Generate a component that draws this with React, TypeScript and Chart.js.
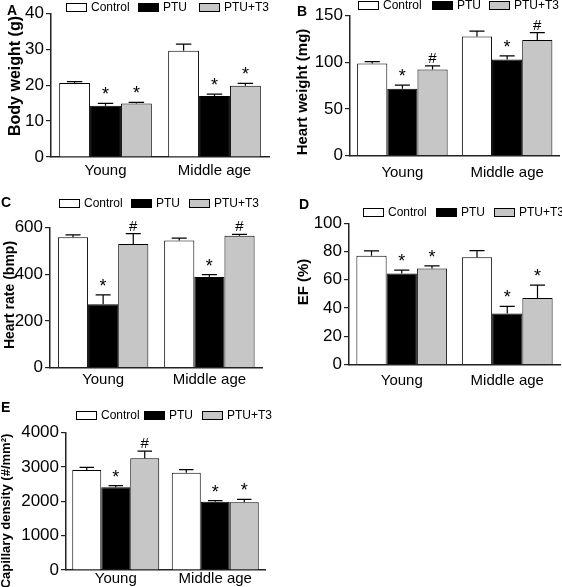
import React, { useEffect, useRef } from "react";
import { Chart, registerables } from "chart.js";

Chart.register(...registerables);

// ---------- data ----------
const groups = ["Young", "Middle age"];
const seriesNames = ["Control", "PTU", "PTU+T3"];

// A: body weight (g)
const bwControl = [20.6, 29.6];
const bwControlErr = [0.4, 1.8];
const bwPTU = [14.3, 17.0];
const bwPTUErr = [0.6, 0.5];
const bwPTUT3 = [14.9, 19.8];
const bwPTUT3Err = [0.3, 0.7];
const bwMarks = [["", ""], ["*", "*"], ["*", "*"]];
const bwTicks = [0, 10, 20, 30, 40];

// B: heart weight (mg)
const hwControl = [98.6, 127.7];
const hwControlErr = [2.1, 5.7];
const hwPTU = [71.7, 102.9];
const hwPTUErr = [3.8, 3.9];
const hwPTUT3 = [92.2, 123.8];
const hwPTUT3Err = [4.0, 8.1];
const hwMarks = [["", ""], ["*", "*"], ["#", "#"]];
const hwTicks = [0, 50, 100, 150];

// C: heart rate (bmp)
const hrControl = [558, 544];
const hrControlErr = [10, 10];
const hrPTU = [271, 388];
const hrPTUErr = [40, 10];
const hrPTUT3 = [529, 564];
const hrPTUT3Err = [44, 6];
const hrMarks = [["", ""], ["*", "*"], ["#", "#"]];
const hrTicks = [0, 200, 400, 600];

// D: EF (%)
const efControl = [77.1, 76.0];
const efControlErr = [3.4, 4.7];
const efPTU = [64.4, 36.2];
const efPTUErr = [2.4, 5.0];
const efPTUT3 = [68.0, 47.1];
const efPTUT3Err = [1.9, 9.1];
const efMarks = [["", ""], ["*", "*"], ["*", "*"]];
const efTicks = [0, 20, 40, 60, 80, 100];

// E: capillary density (#/mm²)
const cdControl = [2913, 2835];
const cdControlErr = [77, 87];
const cdPTU = [2409, 1990];
const cdPTUErr = [47, 29];
const cdPTUT3 = [3253, 1971];
const cdPTUT3Err = [213, 88];
const cdMarks = [["", ""], ["*", "*"], ["#", "*"]];
const cdTicks = [0, 1000, 2000, 3000, 4000];

// ---------- styles / layout ----------
const W = 562;
const H = 587;
const CH = 640; // canvas height (taller than page so bottom labels are not clipped)
const XH = 30;
const FONT = '"Liberation Sans", Arial, Helvetica, sans-serif';
const fills = ["#ffffff", "#000000", "#c6c6c6"];

const panels = [
  {
    letter: "A", lx: 7, ly: 11,
    title: "Body weight (g)", tx: 16, ty: 76, tsize: 16,
    values: [bwControl, bwPTU, bwPTUT3], errors: [bwControlErr, bwPTUErr, bwPTUT3Err], marks: bwMarks, ticks: bwTicks,
    L: 51, R: 269, T: 13.3, B: 157, cat: 0.85, xpad: 5,
    legX: [66, 138, 199], legY: 7,
  },
  {
    letter: "B", lx: 297, ly: 12,
    title: "Heart weight (mg)", tx: 303, ty: 92, tsize: 15,
    values: [hwControl, hwPTU, hwPTUT3], errors: [hwControlErr, hwPTUErr, hwPTUT3Err], marks: hwMarks, ticks: hwTicks,
    L: 350, R: 559.5, T: 15.7, B: 155.5, cat: 0.864, xpad: 8,
    legX: [358, 432, 489], legY: 5,
  },
  {
    letter: "C", lx: 1, ly: 203,
    title: "Heart rate (bmp)", tx: 10, ty: 295, tsize: 14,
    values: [hrControl, hrPTU, hrPTUT3], errors: [hrControlErr, hrPTUErr, hrPTUT3Err], marks: hrMarks, ticks: hrTicks,
    L: 50, R: 262.5, T: 227.3, B: 367.7, cat: 0.851, xpad: 3,
    legX: [59, 131, 189], legY: 203,
  },
  {
    letter: "D", lx: 299, ly: 205,
    title: "EF (%)", tx: 303.5, ty: 282, tsize: 15,
    values: [efControl, efPTU, efPTUT3], errors: [efControlErr, efPTUErr, efPTUT3Err], marks: efMarks, ticks: efTicks,
    L: 349, R: 560, T: 223.3, B: 364.5, cat: 0.86, xpad: 7,
    legX: [363, 436, 494], legY: 212,
  },
  {
    letter: "E", lx: 1, ly: 408,
    title: "Capillary density (#/mm\u00B2)", tx: 6, ty: 511, tsize: 13,
    values: [cdControl, cdPTU, cdPTUT3], errors: [cdControlErr, cdPTUErr, cdPTUT3Err], marks: cdMarks, ticks: cdTicks,
    L: 66, R: 265, T: 432.7, B: 570, cat: 0.874, xpad: 0,
    legX: [76, 144, 202], legY: 415,
  },
];

const decorPlugin = {
  id: "decor",
  afterDatasetsDraw(chart: any) {
    const ctx = chart.ctx;
    const yScale = chart.scales.y;
    ctx.save();
    chart.data.datasets.forEach((ds: any, i: number) => {
      const meta = chart.getDatasetMeta(i);
      meta.data.forEach((el: any, j: number) => {
        const v = ds.data[j];
        const e = ds.errors[j];
        const yTop = yScale.getPixelForValue(v + e);
        const cap = el.width * 0.5;
        ctx.strokeStyle = "#000";
        ctx.lineWidth = 1.2;
        ctx.beginPath();
        ctx.moveTo(el.x, el.y);
        ctx.lineTo(el.x, yTop);
        ctx.moveTo(el.x - cap / 2, yTop);
        ctx.lineTo(el.x + cap / 2, yTop);
        ctx.stroke();
        const m = ds.marks[j];
        if (m) {
          ctx.fillStyle = "#000";
          ctx.textAlign = "center";
          ctx.textBaseline = "alphabetic";
          ctx.font = m === "*" ? `18px ${FONT}` : `15px ${FONT}`;
          ctx.fillText(m, el.x, yTop - 3);
        }
      });
    });
    ctx.restore();
  },
  afterDraw(chart: any, _args: any, opts: any) {
    const ctx = chart.ctx;
    ctx.save();
    chart.data.datasets.forEach((ds: any, i: number) => {
      const x = opts.legX[i];
      const y = opts.legY;
      ctx.fillStyle = ds.backgroundColor;
      ctx.fillRect(x, y - 4, 20, 8);
      ctx.strokeStyle = "#000";
      ctx.lineWidth = 1;
      ctx.strokeRect(x + 0.5, y - 3.5, 20, 8);
      ctx.fillStyle = "#000";
      ctx.font = `12px ${FONT}`;
      ctx.textAlign = "left";
      ctx.textBaseline = "middle";
      ctx.fillText(ds.label, x + 25, y + 0.5);
    });
    ctx.fillStyle = "#000";
    ctx.font = `bold 14px ${FONT}`;
    ctx.textAlign = "left";
    ctx.textBaseline = "middle";
    ctx.fillText(opts.letter, opts.lx, opts.ly);
    ctx.translate(opts.tx, opts.ty);
    ctx.rotate(-Math.PI / 2);
    ctx.font = `bold ${opts.tsize}px ${FONT}`;
    ctx.textAlign = "center";
    ctx.textBaseline = "middle";
    ctx.fillText(opts.title, 0, 0);
    ctx.restore();
  },
};

function makeConfig(p: any): any {
  const maxV = p.ticks[p.ticks.length - 1];
  const step = p.ticks[1] - p.ticks[0];
  const YW = p.L - 1;
  return {
    type: "bar",
    data: {
      labels: groups,
      datasets: seriesNames.map((name, i) => ({
        label: name,
        data: p.values[i],
        errors: p.errors[i],
        marks: p.marks[i],
        backgroundColor: fills[i],
        borderColor: "#000",
        borderWidth: 1,
        categoryPercentage: p.cat,
        barPercentage: 1,
      })),
    },
    options: {
      responsive: false,
      animation: false,
      events: [],
      layout: {
        padding: { left: p.L - YW, right: W - p.R, top: p.T, bottom: CH - p.B - XH },
      },
      scales: {
        x: {
          afterFit: (s: any) => { s.height = XH; },
          grid: { display: true, drawOnChartArea: false, drawTicks: false },
          border: { display: true, color: "#222", width: 1.5 },
          ticks: { padding: p.xpad, color: "#000", font: { family: FONT, size: 15 }, maxRotation: 0, autoSkip: false },
        },
        y: {
          min: 0,
          max: maxV,
          afterFit: (s: any) => { s.width = YW; },
          afterBuildTicks: (s: any) => { s.ticks = p.ticks.map((v: number) => ({ value: v })); },
          ticks: {
            stepSize: step,
            padding: 2,
            color: "#000",
            font: { family: FONT, size: 17 },
            callback: (v: any) => String(v),
          },
          grid: { display: true, drawOnChartArea: false, drawTicks: true, tickLength: 5, color: "#222", lineWidth: 1.2 },
          border: { display: true, color: "#222", width: 1.5 },
        },
      },
      plugins: {
        legend: { display: false },
        tooltip: { enabled: false },
        title: { display: false },
        decor: {
          letter: p.letter, lx: p.lx, ly: p.ly,
          title: p.title, tx: p.tx, ty: p.ty, tsize: p.tsize,
          legX: p.legX, legY: p.legY,
        },
      },
    },
    plugins: [decorPlugin],
  };
}

function Panel({ p }: { p: any }) {
  const ref = useRef<HTMLCanvasElement | null>(null);
  useEffect(() => {
    if (!ref.current) return;
    const chart = new Chart(ref.current, makeConfig(p));
    return () => chart.destroy();
  }, [p]);
  return (
    <canvas
      ref={ref}
      width={W}
      height={CH}
      style={{ position: "absolute", left: 0, top: 0, width: W, height: CH }}
    />
  );
}

export default function App() {
  return (
    <div style={{ position: "absolute", left: 0, top: 0, width: W, height: H, background: "#fff", overflow: "hidden" }}>
      {panels.map((p) => (
        <Panel key={p.letter} p={p} />
      ))}
    </div>
  );
}
